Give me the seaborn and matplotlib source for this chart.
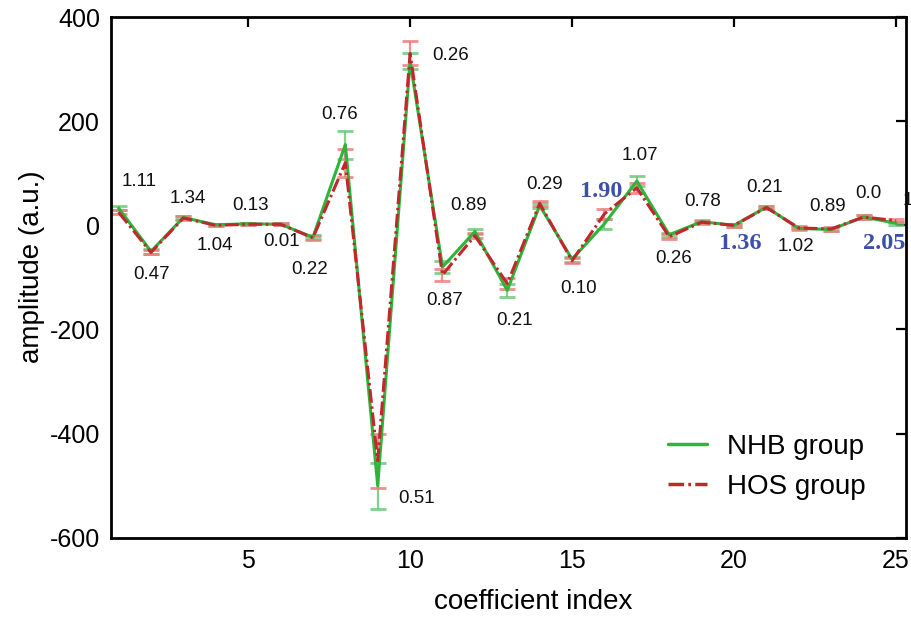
import matplotlib
matplotlib.use("Agg")
import matplotlib.pyplot as plt
import numpy as np
import pandas as pd
import seaborn as sns

# cepstral coefficient index and group means / spreads
coef_index = list(range(1, 26))
nhb_mean = [33, -50, 15, 1, 3, 2, -23, 155, -500, 315, -80, -12, -125, 38, -65,
            3, 85, -18, 7, 0, 35, -6, -8, 16, 4]
nhb_err = [4, 5, 3, 2, 2, 2, 4, 27, 44, 15, 12, 5, 12, 5, 5,
           10, 10, 4, 3, 3, 3, 3, 3, 3, 3]
hos_mean = [25, -52, 14, 0, 2, 2, -24, 120, -452, 330, -95, -20, -112, 42, -68,
            22, 72, -22, 6, 0, 34, -5, -7, 16, 9]
hos_err = [4, 4, 3, 2, 2, 2, 4, 27, 52, 23, 12, 5, 10, 5, 5,
           9, 9, 5, 3, 3, 3, 3, 3, 3, 3]

group_names = ["NHB group", "HOS group"]

# per-coefficient statistic annotations (blue = highlighted)
stat_text = ["1.11", "0.47", "1.34", "1.04", "0.13", "0.01", "0.22", "0.76",
             "0.51", "0.26", "0.87", "0.89", "0.21", "0.29", "0.10", "1.90",
             "1.07", "0.26", "0.78", "1.36", "0.21", "1.02", "0.89", "0.0",
             "2.05", "1.15"]
stat_highlight = ["1.90", "1.36", "2.05"]
stat_pos = [(1.62, 84), (2.02, -95), (3.13, 51), (3.98, -38), (5.06, 38),
            (6.02, -32), (6.9, -84), (7.81, 212), (10.2, -524), (11.24, 327),
            (11.06, -144), (11.8, 38), (13.24, -183), (14.15, 78), (15.19, -121),
            (15.9, 64), (17.1, 134), (18.13, -63), (19.03, 45), (20.18, -35),
            (20.94, 73), (21.9, -41), (22.9, 36), (24.16, 62), (24.64, -34),
            (25.22, 48)]

df = pd.DataFrame({
    "coefficient index": coef_index * 2,
    "amplitude": nhb_mean + hos_mean,
    "err": nhb_err + hos_err,
    "group": [group_names[0]] * len(coef_index) + [group_names[1]] * len(coef_index),
})

sns.set_style("white")
plt.rcParams["font.family"] = ["Liberation Sans", "DejaVu Sans"]
plt.rcParams.update({"text.color": "black", "axes.labelcolor": "black",
                     "xtick.color": "black", "ytick.color": "black"})

fig = plt.figure(figsize=(9.11, 6.21), dpi=100)
ax = fig.add_axes([0.122, 0.134, 0.8725, 0.8386])

line_colors = {"NHB group": "#2cb539", "HOS group": "#c1272d"}
bar_colors = {"NHB group": "#6cc878", "HOS group": "#ef7b7b"}

for g in group_names:
    sub = df[df["group"] == g]
    ax.errorbar(sub["coefficient index"], sub["amplitude"], yerr=sub["err"],
                fmt="none", ecolor=bar_colors[g], elinewidth=1.6, capsize=5.5,
                capthick=2.0, alpha=0.85, zorder=2)

sns.lineplot(data=df, x="coefficient index", y="amplitude", hue="group",
             style="group", hue_order=group_names, style_order=group_names,
             palette=line_colors,
             dashes={"NHB group": "", "HOS group": (4.5, 1.2, 0.8, 1.2)},
             linewidth=2.2, ax=ax, zorder=3)

for txt, (xp, yp) in zip(stat_text, stat_pos):
    if txt in stat_highlight:
        ax.text(xp, yp, txt, ha="center", va="center", fontsize=17.5,
                fontweight="bold", family="Liberation Serif", color="#3d50a8",
                zorder=4)
    else:
        ha = "left" if xp > 25.1 else "center"
        ax.text(xp, yp, txt, ha=ha, va="center", fontsize=13.5,
                color="#111111", zorder=4, clip_on=False)

ax.set_xlim(0.77, 25.31)
ax.set_ylim(-600, 400)
ax.set_xticks([5, 10, 15, 20, 25])
ax.set_yticks([-600, -400, -200, 0, 200, 400])
ax.set_yticklabels(["-600", "-400", "-200", "0", "200", "400"])
ax.set_xlabel("coefficient index", fontsize=20)
ax.set_ylabel("amplitude (a.u.)", fontsize=20)
ax.xaxis.set_label_coords(0.531, -0.098)
ax.yaxis.set_label_coords(-0.083, 0.52)
ax.tick_params(axis="both", which="both", direction="in", length=7, width=1.6,
               labelsize=18, top=True, right=True, pad=8)
for sp in ax.spines.values():
    sp.set_visible(True)
    sp.set_linewidth(2.0)
    sp.set_color("black")

handles, labels = ax.get_legend_handles_labels()
leg = ax.legend(handles, labels, loc="upper left", bbox_to_anchor=(0.7006, 0.2),
                frameon=False, fontsize=20, handlelength=1.4, handletextpad=0.72,
                labelspacing=0.52, borderpad=0.0, borderaxespad=0.0)
for h in leg.get_lines():
    h.set_linewidth(2.5)

fig.savefig("out.png", dpi=100)
